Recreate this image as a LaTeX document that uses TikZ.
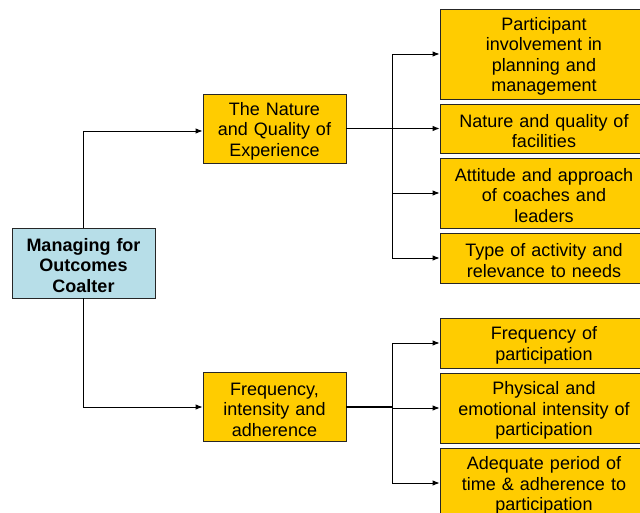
\documentclass[tikz,border=0pt]{standalone}
\usepackage{fontspec}
\setmainfont{Liberation Sans}
\usetikzlibrary{arrows.meta}
\definecolor{boxyellow}{HTML}{FFCC00}
\definecolor{rootblue}{HTML}{B7DEE8}

\begin{document}
\begin{tikzpicture}[x=1pt,y=-1pt,
box/.style={draw=black!85,line width=0.8pt,align=center,inner sep=0pt,font=\fontsize{18}{20.5}\selectfont,execute at begin node={\rule{0pt}{18pt}\ignorespaces}},
rootbox/.style={box,fill=rootblue,text width=140pt,minimum width=143pt,minimum height=70pt,font=\fontsize{18}{20.5}\selectfont\bfseries},
midbox/.style={box,fill=boxyellow,text width=140pt,minimum width=143pt,minimum height=69pt},
leafbox/.style={box,fill=boxyellow,text width=205pt,minimum width=208pt},
link/.style={line width=0.9pt,-{Latex[length=7pt,width=5.5pt]}}]
\useasboundingbox (0,0) rectangle (640,513);
\clip (0,0) rectangle (640,513);

\node[rootbox] (root) at (83.5,263) {Managing for\\Outcomes\\Coalter};

\node[midbox] (mid1) at (274.5,128.5) {The Nature\\and Quality of\\Experience};
\node[midbox] (mid2) at (274.5,407) {Frequency,\\intensity and\\adherence};

% upper branch
\node[leafbox,minimum height=90pt] (leaf1) at (544,54) {Participant\\involvement in\\planning and\\management};
\node[leafbox,minimum height=49pt] (leaf2) at (544,128.5) {Nature and quality of\\facilities};
\node[leafbox,minimum height=70pt] (leaf3) at (544,193) {Attitude and approach\\of coaches and\\leaders};
\node[leafbox,minimum height=50pt] (leaf4) at (544,258) {Type of activity and\\relevance to needs};

% lower branch
\node[leafbox,minimum height=50pt] (leaf5) at (544,343) {Frequency of\\participation};
\node[leafbox,minimum height=70pt] (leaf6) at (544,408) {Physical and\\emotional intensity of\\participation};
\node[leafbox,minimum height=70pt] (leaf7) at (544,483) {Adequate period of\\time \& adherence to\\participation};

\coordinate (bus1) at (392,128.5);
\coordinate (bus2) at (392,407);

\draw[link] (root.north) |- ([yshift=-2.5pt]mid1.west);
\draw[link] (root.south) |- (mid2.west);

\draw[line width=1.6pt] (mid1.east) -- (bus1);
\draw[line width=1.6pt] (mid2.east) -- (bus2);
\foreach \n in {1,...,4}
    \draw[link] (bus1) |- (leaf\n.west);
\foreach \n in {5,6,7}
    \draw[link] (bus2) |- (leaf\n.west);
\end{tikzpicture}
\end{document}
